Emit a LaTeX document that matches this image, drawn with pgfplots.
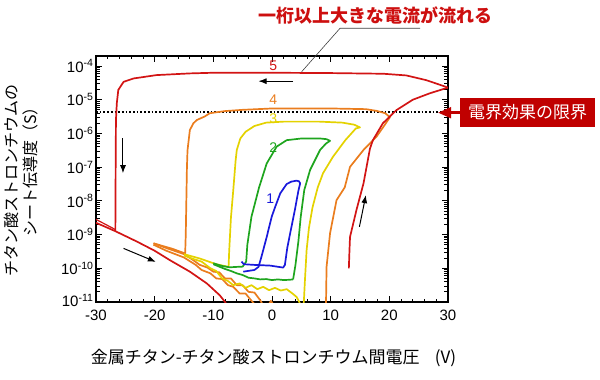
\documentclass[border=0pt]{standalone}
\usepackage{pgfplots}
\pgfplotsset{compat=1.18}
\usepackage{fontspec}
\setmainfont{Liberation Sans}
\newfontfamily\jp{Noto Sans CJK JP}
\usetikzlibrary{arrows.meta}
\definecolor{c5}{RGB}{210,20,20}
\definecolor{c4}{RGB}{234,125,30}
\definecolor{c3}{RGB}{228,210,0}
\definecolor{c2}{RGB}{30,165,30}
\definecolor{c1}{RGB}{25,25,220}
\definecolor{boxred}{RGB}{192,0,0}
\definecolor{txtred}{RGB}{205,15,15}
\begin{document}
\begin{tikzpicture}
\useasboundingbox (0,0) rectangle (600pt,380pt);
\begin{axis}[at={(96pt,78pt)}, anchor=south west, scale only axis,
  width=352pt, height=246pt,
  xmin=-30, xmax=30, ymode=log, ymin=1e-11, ymax=1.98e-4,
  xtick={-30,-20,-10,0,10,20,30},
  xticklabels={-30,-20,-10,0,10,20,30},
  minor x tick num=4,
  ytick={1e-11,1e-10,1e-9,1e-8,1e-7,1e-6,1e-5,1e-4},
  yticklabels={\raisebox{3pt}{10\textsuperscript{-11}},10\textsuperscript{-10},10\textsuperscript{-9},10\textsuperscript{-8},10\textsuperscript{-7},10\textsuperscript{-6},10\textsuperscript{-5},10\textsuperscript{-4}},
  tick label style={font=\fontsize{15}{15}\selectfont},
  xticklabel style={yshift=-4pt},
  yticklabel style={xshift=1pt},
  major tick length=6pt, minor tick length=3.5pt,
  tick style={black, line width=0.8pt},
  axis line style={line width=1.1pt},
  every axis plot/.append style={line width=1.7pt, line join=round},
]
% dotted limit line
\addplot[black, dotted, line width=1.3pt] coordinates {(-30,4.3e-6) (30,4.3e-6)};
% curve 4 (orange)
\addplot[c4] coordinates {(-20.2,5.50e-10) (-17,3.80e-10) (-14.8,2.75e-10) (-14.7,1e-9) (-14.6,1e-8) (-14.5,1e-7) (-14.4,3.16e-7) (-14,1.26e-6) (-13.4,2.0e-6) (-12.8,2.51e-6) (-11.5,3.16e-6) (-10.6,3.98e-6) (-8,4.6e-6) (-5,5.01e-6) (0,5.50e-6) (10,5.50e-6) (16,5.25e-6) (17.8,4.68e-6) (19.3,3.98e-6) (20.1,3.02e-6) (19,1.58e-6) (17.8,7.94e-7) (15.6,3.24e-7) (13.3,1.02e-7) (12.4,2.51e-8) (11,1.05e-8) (9.9,1.10e-9) (9.3,1.10e-10) (9.2,7.94e-12)};
\addplot[c4] coordinates {(-20.2,5.50e-10) (-18,3.98e-10) (-16,3.02e-10) (-15,2.63e-10) (-13.5,1.78e-10) (-12.3,1.26e-10) (-11,1.05e-10) (-10,7.94e-11) (-9,7.59e-11) (-8,5.01e-11) (-7,5.01e-11) (-6,3.16e-11) (-5,3.16e-11) (-4,2.0e-11) (-3,1.91e-11) (-2,1.12e-11) (-1.5,7.9e-12)};
\addplot[c4] coordinates {(-20.2,5.01e-10) (-18,3.31e-10) (-15,2.09e-10) (-13,1.26e-10) (-12,8.91e-11) (-10.5,7.08e-11) (-9.5,5.01e-11) (-8.5,4.79e-11) (-7.5,3.16e-11) (-6.6,2.82e-11) (-5.5,1.78e-11) (-4.5,1.78e-11) (-3.7,1.20e-11) (-2.8,7.9e-12)};
\addplot[c4] coordinates {(-0.6,8e-12) (-0.2,1.08e-11) (0.3,8e-12)};
% curve 3 (yellow)
\addplot[c3] coordinates {(-15,2.63e-10) (-12.3,1.95e-10) (-9.5,1.32e-10) (-7.4,1.10e-10) (-7.3,3.16e-10) (-7.0,3.16e-9) (-6.6,2.09e-8) (-6.2,1.58e-7) (-6,3.24e-7) (-5.4,7.08e-7) (-4.5,1.12e-6) (-3,1.66e-6) (-1,2.09e-6) (2,2.24e-6) (8,2.24e-6) (12,2.09e-6) (14,1.82e-6) (15,1.51e-6) (14.3,1.41e-6) (12.5,6.31e-7) (10.4,2.04e-7) (8.7,6.61e-8) (7.8,2.51e-8) (6.9,6.31e-9) (6.3,1.58e-9) (5.9,3.47e-10) (5.6,3.98e-11) (5.4,7.94e-12)};
\addplot[c3] coordinates {(-15,2.40e-10) (-13.5,1.91e-10) (-12,1.58e-10) (-10.5,1.0e-10) (-9.5,8.3e-11) (-8.5,5.0e-11) (-7.5,4.2e-11) (-6.6,3.16e-11) (-5.5,3.55e-11) (-4.5,2.63e-11) (-3.5,3.16e-11) (-2.5,2.40e-11) (-1.5,2.82e-11) (-0.5,2.24e-11) (0.5,2.63e-11) (1.5,2.19e-11) (2.5,2.40e-11) (3.5,1.78e-11) (4.2,1.41e-11) (4.8,8.9e-12)};
% curve 2 (green)
\addplot[c2] coordinates {(-10,1.41e-10) (-8.5,1.17e-10) (-7.2,1.07e-10) (-6,1.10e-10) (-5,1.12e-10) (-4.4,1.58e-10) (-4.2,5.01e-10) (-3.5,3.39e-9) (-2.2,2.51e-8) (-0.9,1.29e-7) (0.8,4.07e-7) (2.5,6.31e-7) (5,7.08e-7) (8.2,7.08e-7) (9.3,6.76e-7) (9.9,6.03e-7) (9.2,5.01e-7) (8.2,3.24e-7) (6.5,8.32e-8) (5.5,2.09e-8) (4.9,3.39e-9) (4.5,6.31e-10) (4.0,1.26e-10) (3.6,4.68e-11)};
\addplot[c2] coordinates {(-10,1.32e-10) (-9,1.12e-10) (-8,9.55e-11) (-7,8.32e-11) (-6,7.08e-11) (-5,6.31e-11) (-4,5.25e-11) (-3,5.01e-11) (-2,4.68e-11) (-1,4.79e-11) (0,4.47e-11) (1,4.68e-11) (2,4.47e-11) (3,4.57e-11) (3.6,4.68e-11)};
% curve 1 (blue)
\addplot[c1] coordinates {(-5.2,1.58e-10) (-4.8,1.32e-10) (-3,1.26e-10) (-0.3,1.20e-10) (1.9,1.05e-10) (2.2,1.26e-10) (2.6,3.98e-10) (3.1,1.10e-9) (3.9,5.37e-9) (4.5,2.0e-8) (4.8,3.31e-8) (4.6,3.80e-8) (4.2,3.98e-8) (3.3,3.72e-8) (2.5,3.16e-8) (1.4,1.66e-8) (0.5,6.31e-9) (-0.05,3.39e-9) (-0.9,8.51e-10) (-1.8,2.19e-10) (-2.3,1.10e-10) (-3,8.91e-11) (-4.9,7.94e-11)};
% curve 5 (red)
\addplot[c5] coordinates {(30,2.29e-5) (28,3.02e-5) (26.3,3.80e-5) (22.9,5.25e-5) (19,5.89e-5) (10,6.17e-5) (0,6.31e-5) (-10,6.31e-5) (-14,6.03e-5) (-19.7,5.37e-5) (-23.6,4.27e-5) (-25.3,3.39e-5) (-26.2,1.95e-5) (-26.45,7.94e-6) (-26.6,2.51e-6) (-26.65,1e-7) (-26.7,1.26e-9)};
\addplot[c5] coordinates {(-30,2.24e-9) (-26.7,1.26e-9) (-23,6.17e-10) (-20,3.31e-10) (-17.4,1.74e-10) (-14,7.94e-11) (-11.1,3.55e-11) (-8.9,1.58e-11) (-8,1e-11) (-7.5,7.08e-12)};
\addplot[c5, line width=1.2pt] coordinates {(-30,2.82e-9) (-26.7,1.41e-9)};
\addplot[c5] coordinates {(13.1,1e-10) (13.2,3.16e-10) (13.3,8.51e-10) (14.4,5.37e-9) (15.6,3.31e-8) (16.7,3.55e-7) (17.2,6.31e-7) (18.9,2.0e-6) (21.2,4.90e-6) (24,1e-5) (26.9,1.55e-5) (30,2.29e-5)};
% arrows
\draw[-{Latex[length=8pt,width=6pt]}, line width=1pt] (axis cs:3.6,3.55e-5) -- (axis cs:-2.3,3.55e-5);
\draw[-{Latex[length=8pt,width=6pt]}, line width=1pt] (axis cs:-25.4,7.08e-7) -- (axis cs:-25.4,6.61e-8);
\draw[-{Latex[length=8pt,width=6pt]}, line width=1pt] (axis cs:-25.3,3.89e-10) -- (axis cs:-19.8,1.55e-10);
\draw[-{Latex[length=8pt,width=6pt]}, line width=1pt] (axis cs:14.9,1.70e-9) -- (axis cs:16.0,1.48e-8);
% numbers
\node[text=c5, font=\fontsize{14}{14}\selectfont] at (axis cs:0.2,1e-4) {5};
\node[text=c4, font=\fontsize{14}{14}\selectfont] at (axis cs:0.2,1e-5) {4};
\node[text=c3, font=\fontsize{14}{14}\selectfont] at (axis cs:0.2,2.69e-6) {3};
\node[text=c2, font=\fontsize{14}{14}\selectfont] at (axis cs:0.2,3.89e-7) {2};
\node[text=c1, font=\fontsize{14}{14}\selectfont] at (axis cs:-0.3,1.17e-8) {1};
\end{axis}
% callout 1
\draw[line width=0.6pt, black!75] (301.7pt,308.3pt) -- (340pt,351.7pt) -- (420pt,351.7pt);
\node[text=txtred, font=\jp\bfseries\fontsize{18}{18}\selectfont] at (375.5pt,365pt) {一桁以上大きな電流が流れる};
% callout 2
\node[fill=boxred, text=white, font=\jp\fontsize{17}{17}\selectfont, minimum width=135pt, minimum height=28.5pt, inner sep=0pt] at (527.5pt,267.5pt) {電界効果の限界};
\fill[boxred] (438.3pt,267.3pt) -- (451pt,273pt) -- (451pt,261.6pt) -- cycle;
\draw[boxred, line width=3.2pt] (449pt,267.3pt) -- (461pt,267.3pt);
% axis labels
\node[rotate=90, font=\jp\fontsize{16}{16}\selectfont] at (11pt,199pt) {チタン酸ストロンチウムの};
\node[rotate=90, font=\jp\fontsize{16}{16}\selectfont] at (30pt,212pt) {シート伝導度（S）};
\node[font=\jp\fontsize{17}{17}\selectfont] at (273.5pt,22.3pt) {金属チタン-チタン酸ストロンチウム間電圧\hspace{0.9em}(V)};
\end{tikzpicture}
\end{document}
